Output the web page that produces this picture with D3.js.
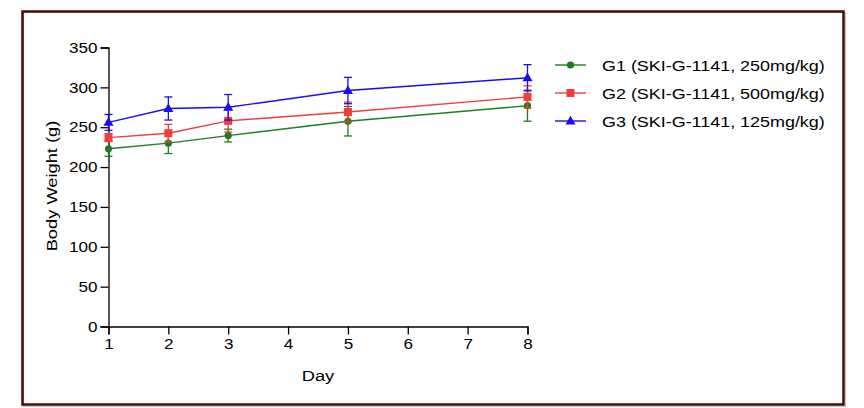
<!DOCTYPE html>
<html>
<head>
<meta charset="utf-8">
<script src="https://cdn.jsdelivr.net/npm/d3@7/dist/d3.min.js"></script>
<style>
body { margin: 0; background: #fff; }
svg text { font-family: Arial, "Liberation Sans", sans-serif; fill: #000; }
</style>
</head>
<body>
<svg id="chart" width="864" height="408"></svg>
<script>
const days = [1, 2, 3, 5, 8];
const xTicks = [1, 2, 3, 4, 5, 6, 7, 8];
const yTicks = [0, 50, 100, 150, 200, 250, 300, 350];
const seriesNames = ["G1 (SKI-G-1141, 250mg/kg)", "G2 (SKI-G-1141, 500mg/kg)", "G3 (SKI-G-1141, 125mg/kg)"];
const seriesColors = ["#1e7d1e", "#f03c3c", "#1a0cf5"];
const seriesShapes = ["circle", "square", "triangle"];
const g1Mean = [223, 230, 239.5, 257.5, 277];
const g1Err = [9.5, 13, 8, 18.5, 19.5];
const g2Mean = [237, 242.5, 258, 269, 288];
const g2Err = [5, 11, 14, 12.5, 14];
const g3Mean = [256, 273.5, 275, 296, 312];
const g3Err = [10, 14.5, 16, 16.5, 16.5];
const means = [g1Mean, g2Mean, g3Mean];
const errs = [g1Err, g2Err, g3Err];

const svg = d3.select("#chart");
const stretch = 1.18;

// frame
svg.append("rect").attr("x", 23.5).attr("y", 12.5).attr("width", 822).attr("height", 394)
  .attr("fill", "none").attr("stroke", "#c8c0c0").attr("stroke-width", 1);
svg.append("rect").attr("x", 22.5).attr("y", 11.5).attr("width", 821).attr("height", 393)
  .attr("fill", "none").attr("stroke", "#4a0a0a").attr("stroke-width", 2.5);

const x = d3.scaleLinear().domain([1, 8]).range([108.5, 527.5]);
const y = d3.scaleLinear().domain([0, 350]).range([326.5, 47.5]);

const xAxis = svg.append("g").attr("transform", "translate(0,326.5)")
  .call(d3.axisBottom(x).tickValues(xTicks).tickFormat(d3.format("d")).tickSize(8).tickPadding(4));
const yAxis = svg.append("g").attr("transform", "translate(108.5,0)")
  .call(d3.axisLeft(y).tickValues(yTicks).tickFormat(d3.format("d")).tickSize(8).tickPadding(3));
[xAxis, yAxis].forEach(a => {
  a.selectAll("path.domain, line").attr("stroke", "#000").attr("stroke-width", 1.3);
  a.selectAll("text").attr("font-size", 14.5).attr("fill", "#000");
});
xAxis.selectAll(".tick text").attr("transform", `scale(${stretch},1)`);
yAxis.selectAll(".tick text").attr("transform", `translate(-11,0) scale(${stretch},1)`).attr("x", 0);

// axis titles
svg.append("text").attr("transform", `translate(318,381) scale(${stretch},1)`)
  .attr("text-anchor", "middle").attr("font-size", 15.5).text("Day");
svg.append("text").attr("transform", `translate(57,186) rotate(-90) scale(${stretch},1)`)
  .attr("text-anchor", "middle").attr("font-size", 15.5).text("Body Weight (g)");

function drawMarker(g, shape, cx, cy, color) {
  if (shape === "circle") {
    g.append("circle").attr("cx", cx).attr("cy", cy).attr("r", 3.6).attr("fill", color);
  } else if (shape === "square") {
    g.append("rect").attr("x", cx - 4).attr("y", cy - 4).attr("width", 8).attr("height", 8).attr("fill", color);
  } else {
    const s = d3.symbol().type(d3.symbolTriangle).size(44);
    g.append("path").attr("d", s()).attr("transform", `translate(${cx},${cy + 0.5})`).attr("fill", color);
  }
}

const line = d3.line().x(d => x(d[0])).y(d => y(d[1]));
means.forEach((m, si) => {
  const color = seriesColors[si];
  const g = svg.append("g");
  const pts = days.map((d, i) => [d, m[i]]);
  g.append("path").attr("d", line(pts)).attr("fill", "none").attr("stroke", color).attr("stroke-width", 1.4);
  days.forEach((d, i) => {
    const cx = x(d), lo = y(m[i] - errs[si][i]), hi = y(m[i] + errs[si][i]);
    g.append("line").attr("x1", cx).attr("x2", cx).attr("y1", lo).attr("y2", hi).attr("stroke", color).attr("stroke-width", 1.3);
    [lo, hi].forEach(yy => g.append("line").attr("x1", cx - 4).attr("x2", cx + 4).attr("y1", yy).attr("y2", yy)
      .attr("stroke", color).attr("stroke-width", 1.3));
    drawMarker(g, seriesShapes[si], cx, y(m[i]), color);
  });
});

// legend
const legendY = d3.scalePoint().domain(seriesNames).range([65, 121]);
seriesNames.forEach((name, si) => {
  const ly = legendY(name);
  const color = seriesColors[si];
  const g = svg.append("g");
  g.append("line").attr("x1", 555).attr("x2", 586).attr("y1", ly).attr("y2", ly).attr("stroke", color).attr("stroke-width", 1.4);
  drawMarker(g, seriesShapes[si], 570.5, ly, color);
  g.append("text").attr("transform", `translate(602,${ly + 5.5}) scale(${stretch},1)`)
    .attr("font-size", 15.2).text(name);
});
</script>
</body>
</html>
